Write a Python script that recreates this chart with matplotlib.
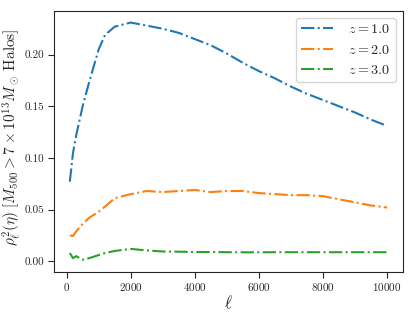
import matplotlib
matplotlib.use("Agg")
import matplotlib.pyplot as plt
import seaborn as sns

ell = [100, 200, 300, 500, 700, 1000, 1200, 1500, 2000, 2500, 3000, 3500, 4000,
       4500, 5000, 5500, 6000, 6500, 7000, 7500, 8000, 8500, 9000, 9500, 10000]

rho_z1 = [0.077, 0.105, 0.122, 0.150, 0.173, 0.205, 0.219, 0.227, 0.231, 0.228,
          0.225, 0.221, 0.215, 0.209, 0.201, 0.192, 0.184, 0.177, 0.169, 0.162,
          0.156, 0.150, 0.144, 0.137, 0.131]
rho_z2 = [0.025, 0.0245, 0.029, 0.036, 0.042, 0.048, 0.053, 0.061, 0.065, 0.068,
          0.067, 0.068, 0.069, 0.067, 0.068, 0.068, 0.066, 0.065, 0.064, 0.064,
          0.063, 0.060, 0.057, 0.054, 0.052]
rho_z3 = [0.008, 0.003, 0.005, 0.0015, 0.003, 0.006, 0.008, 0.010, 0.012, 0.0105,
          0.0095, 0.0093, 0.009, 0.009, 0.0088, 0.0087, 0.0087, 0.0088, 0.0088,
          0.0088, 0.0088, 0.0088, 0.0088, 0.0088, 0.0088]

labels = [r"$z = 1.0$", r"$z = 2.0$", r"$z = 3.0$"]

sns.set_style("ticks")
plt.rcParams["font.family"] = "serif"
plt.rcParams["font.serif"] = ["cmr10", "DejaVu Serif"]
plt.rcParams["mathtext.fontset"] = "cm"
plt.rcParams["axes.unicode_minus"] = False
plt.rcParams["axes.formatter.use_mathtext"] = True

fig, ax = plt.subplots(figsize=(4.15, 3.14), dpi=100)
fig.subplots_adjust(left=0.130, right=0.971, top=0.966, bottom=0.135)

for series, lab in zip([rho_z1, rho_z2, rho_z3], labels):
    ax.plot(ell, series, linestyle="-.", linewidth=1.5, label=lab)

ax.set_xlabel(r"$\ell$", fontsize=12, labelpad=0)
ax.set_ylabel(r"$\rho^2_\ell(\eta)\;[M_{500} > 7 \times 10^{13} M_\odot\;\mathrm{Halos}]$",
              fontsize=11)
ax.yaxis.set_label_coords(-0.088, 0.515)
ax.tick_params(labelsize=8, length=4, pad=3)
ax.set_yticks([0.0, 0.05, 0.10, 0.15, 0.20])
ax.set_yticklabels(["0.00", "0.05", "0.10", "0.15", "0.20"])
ax.set_xticks([0, 2000, 4000, 6000, 8000, 10000])
ax.legend(loc="upper right", fontsize=10.2, handlelength=2.2, handletextpad=1.1)

plt.savefig("out.png", dpi=100)
